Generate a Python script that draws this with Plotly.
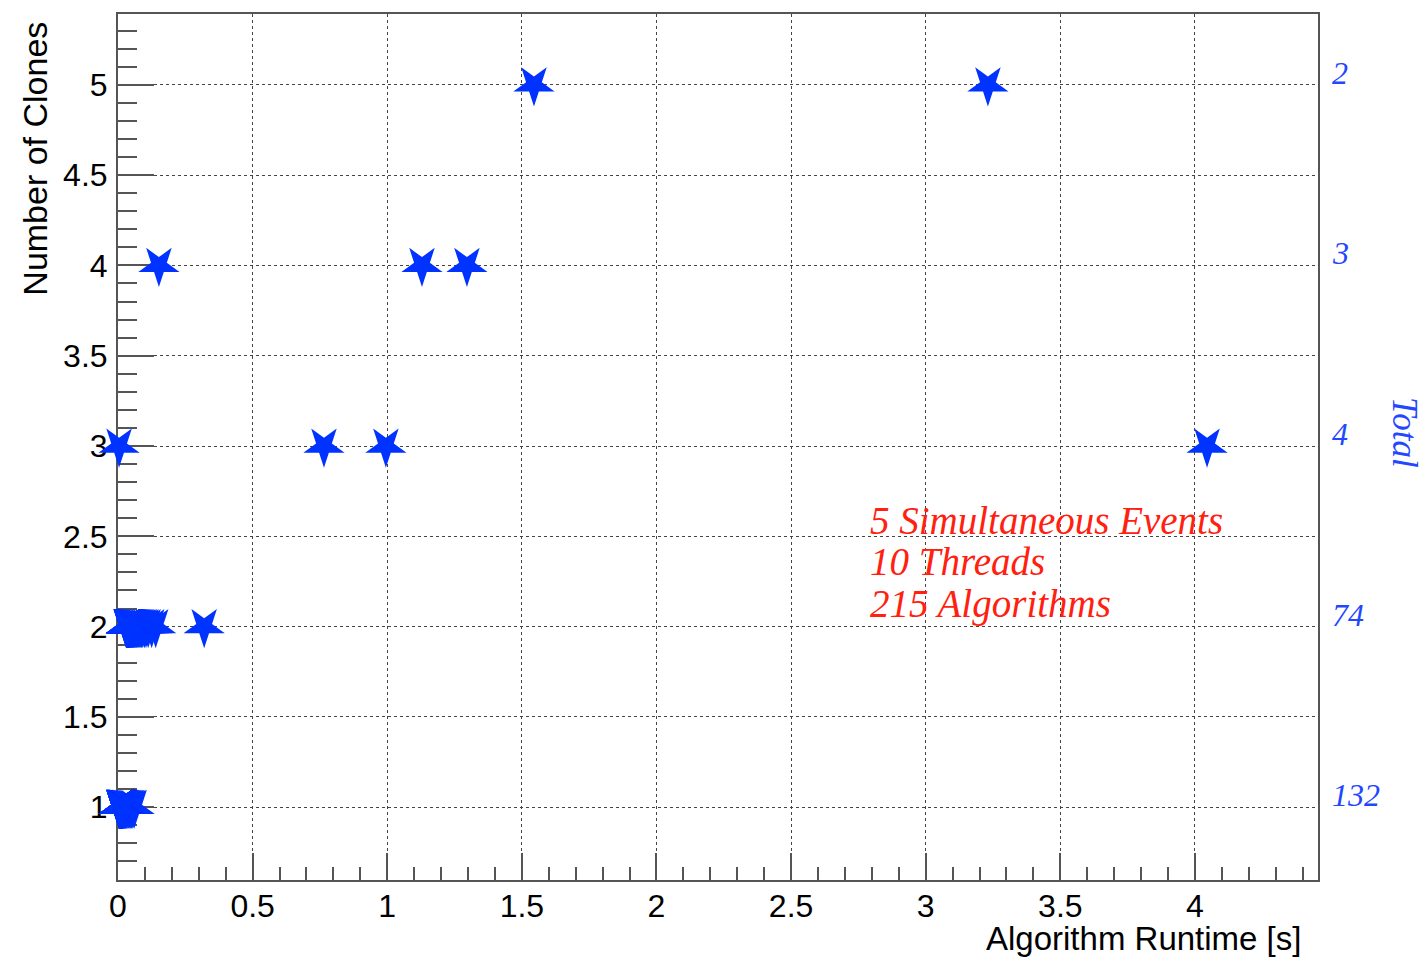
import plotly.graph_objects as go

# ---- data ----
clones_levels = [5, 4, 3, 2, 1]
total_labels = ["2", "3", "4", "74", "132"]

runtime_5 = [1.545, 3.231]
runtime_4 = [0.152, 1.129, 1.296]
runtime_3 = [0.004, 0.765, 0.995, 4.045]
runtime_2 = [
    0.320, 0.140, 0.125, 0.112, 0.104, 0.098, 0.092, 0.087, 0.083, 0.079,
    0.076, 0.073, 0.070, 0.068, 0.066, 0.064, 0.062, 0.060, 0.058, 0.057,
    0.056, 0.055, 0.054, 0.053, 0.052, 0.051, 0.050, 0.049, 0.048, 0.047,
    0.046, 0.045, 0.045, 0.044, 0.044, 0.043, 0.043, 0.042, 0.042, 0.041,
    0.041, 0.040, 0.040, 0.039, 0.039, 0.039, 0.038, 0.038, 0.038, 0.037,
    0.037, 0.037, 0.036, 0.036, 0.036, 0.035, 0.035, 0.035, 0.034, 0.034,
    0.034, 0.034, 0.033, 0.033, 0.033, 0.033, 0.032, 0.032, 0.032, 0.032,
    0.031, 0.031, 0.031, 0.030,
]
runtime_1 = [
    0.060, 0.055, 0.050, 0.046, 0.042, 0.039, 0.036, 0.033, 0.031, 0.029,
    0.028, 0.027, 0.026, 0.025, 0.024, 0.023, 0.022, 0.021, 0.020, 0.019,
    0.018, 0.018, 0.018, 0.018, 0.017, 0.017, 0.017, 0.017, 0.017, 0.016,
    0.016, 0.016, 0.016, 0.016, 0.015, 0.015, 0.015, 0.015, 0.015, 0.015,
    0.014, 0.014, 0.014, 0.014, 0.014, 0.014, 0.013, 0.013, 0.013, 0.013,
    0.013, 0.013, 0.013, 0.012, 0.012, 0.012, 0.012, 0.012, 0.012, 0.012,
    0.011, 0.011, 0.011, 0.011, 0.011, 0.011, 0.011, 0.011, 0.010, 0.010,
    0.010, 0.010, 0.010, 0.010, 0.010, 0.010, 0.009, 0.009, 0.009, 0.009,
    0.009, 0.009, 0.009, 0.009, 0.008, 0.008, 0.008, 0.008, 0.008, 0.008,
    0.008, 0.008, 0.008, 0.007, 0.007, 0.007, 0.007, 0.007, 0.007, 0.007,
    0.007, 0.007, 0.006, 0.006, 0.006, 0.006, 0.006, 0.006, 0.006, 0.006,
    0.006, 0.005, 0.005, 0.005, 0.005, 0.005, 0.005, 0.005, 0.005, 0.005,
    0.004, 0.004, 0.004, 0.004, 0.004, 0.004, 0.004, 0.004, 0.004, 0.004,
    0.004, 0.004,
]
runtimes_by_level = [runtime_5, runtime_4, runtime_3, runtime_2, runtime_1]

info_lines = ["5 Simultaneous Events", "10 Threads", "215 Algorithms"]

# ---- styles ----
W, H = 1427, 957
L, R, T, B = 118, 109, 12, 77
MARKER_BLUE = "#0033ff"
LABEL_BLUE = "#2347ff"
RED = "#ff2010"
AXIS_GREY = "#555555"
SANS = "Liberation Sans, Arial, Helvetica, sans-serif"
SERIF = "Liberation Serif, Times New Roman, serif"

xs, ys = [], []
for lvl, vals in zip(clones_levels, runtimes_by_level):
    xs.extend(vals)
    ys.extend([lvl] * len(vals))

fig = go.Figure()
fig.add_trace(go.Scatter(
    x=xs, y=ys, mode="markers", cliponaxis=False,
    marker=dict(symbol="star", size=31, angle=180, color=MARKER_BLUE,
                line=dict(width=0)),
    hoverinfo="x+y", showlegend=False,
))

axis_common = dict(
    showline=True, linecolor=AXIS_GREY, linewidth=2, mirror=True,
    ticks="inside", tickcolor=AXIS_GREY, tickwidth=2,
    showgrid=True, gridcolor="#444444", griddash="dot", gridwidth=1.3,
    zeroline=False, layer="below traces",
    tickfont=dict(family=SANS, size=32, color="black"),
)

fig.update_xaxes(
    range=[0, 4.457], tickmode="linear", tick0=0, dtick=0.5, ticklen=27,
    minor=dict(ticks="inside", ticklen=13, dtick=0.1, tick0=0,
               tickcolor=AXIS_GREY, tickwidth=2, showgrid=False),
    ticklabelstandoff=-3,
    **axis_common,
)
fig.update_yaxes(
    range=[0.597, 5.392], tickmode="linear", tick0=1, dtick=0.5, ticklen=36,
    minor=dict(ticks="inside", ticklen=19, dtick=0.1, tick0=0,
               tickcolor=AXIS_GREY, tickwidth=2, showgrid=False),
    ticklabelstandoff=2,
    **axis_common,
)

pw, ph = W - L - R, H - T - B
def px(xp):
    return (xp - L) / pw
def py(yp):
    return (H - B - yp) / ph

ann = []
ann.append(dict(text="Algorithm Runtime [s]", xref="paper", yref="paper",
                x=px(1303), y=py(939), xanchor="right", yanchor="middle",
                showarrow=False, font=dict(family=SANS, size=33, color="black")))
ann.append(dict(text="Number of Clones", xref="paper", yref="paper",
                x=px(35), y=py(157), xanchor="center", yanchor="middle",
                textangle=-90, showarrow=False,
                font=dict(family=SANS, size=34, color="black")))
for lvl, lab in zip(clones_levels, total_labels):
    ann.append(dict(text=lab, xref="paper", yref="y", x=px(1330), y=lvl,
                    xanchor="left", yanchor="middle", yshift=12, showarrow=False,
                    font=dict(family=SERIF, size=32, color=LABEL_BLUE, style="italic")))
ann.append(dict(text="Total", xref="paper", yref="paper", x=px(1405), y=py(431),
                xanchor="center", yanchor="middle", textangle=90, showarrow=False,
                font=dict(family=SERIF, size=35, color=LABEL_BLUE, style="italic")))
for yline, line in zip([520, 561, 603], info_lines):
    ann.append(dict(text=line, xref="paper", yref="paper", x=px(868), y=py(yline),
                    xanchor="left", yanchor="middle", showarrow=False,
                    font=dict(family=SERIF, size=39, color=RED, style="italic")))

fig.update_layout(
    width=W, height=H,
    margin=dict(l=L, r=R, t=T, b=B, pad=0),
    paper_bgcolor="white", plot_bgcolor="white",
    annotations=ann,
)

fig.write_html("out.html", config={"displayModeBar": False})

# remove the browser's default body margin so the figure sits at the page origin
with open("out.html", "r", encoding="utf-8") as f:
    html = f.read()
html = html.replace("<body>", '<body style="margin:0;padding:0;overflow:hidden">', 1)
with open("out.html", "w", encoding="utf-8") as f:
    f.write(html)
